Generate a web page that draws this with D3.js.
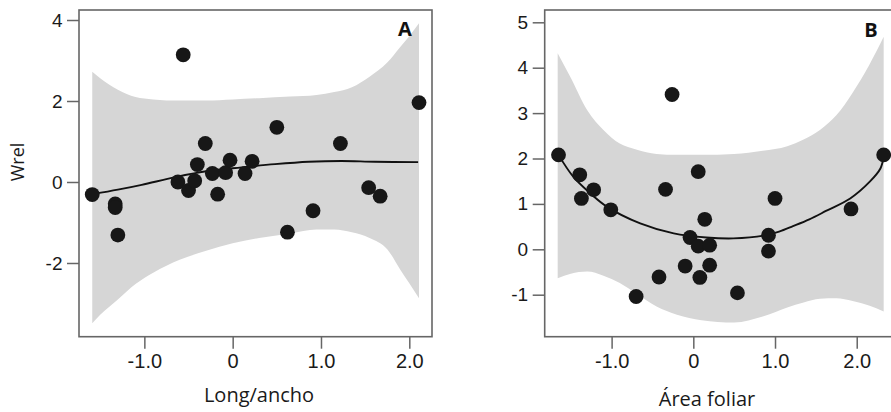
<!DOCTYPE html>
<html>
<head>
<meta charset="utf-8">
<script src="https://cdn.jsdelivr.net/npm/d3@7"></script>
<style>
  html, body { margin: 0; padding: 0; background: #fff; }
  svg { display: block; font-family: "Open Sans", sans-serif; }
</style>
</head>
<body>
<svg id="chart" width="891" height="412"></svg>
<script>
// ---------- Panel A: Long/ancho ----------
const ptsAx = [-1.59, -1.33, -1.33, -1.30, -0.62, -0.56, -0.50, -0.43, -0.40, -0.31, -0.23, -0.17, -0.08, -0.03, 0.14, 0.22, 0.50, 0.62, 0.91, 1.22, 1.54, 1.67, 2.11];
const ptsAy = [-0.31, -0.54, -0.63, -1.31, 0.00, 3.14, -0.21, 0.03, 0.43, 0.95, 0.21, -0.30, 0.23, 0.54, 0.21, 0.51, 1.35, -1.24, -0.71, 0.95, -0.14, -0.35, 1.96];

const fitAx = [-1.58, -1.30, -1.03, -0.65, -0.28, 0.10, 0.48, 0.86, 1.23, 1.61, 2.10];
const fitAy = [-0.30, -0.19, -0.07, 0.12, 0.27, 0.36, 0.44, 0.50, 0.52, 0.50, 0.49];

const bandAx = [-1.59, -1.50, -1.30, -1.10, -0.90, -0.60, -0.30, 0.00, 0.30, 0.65, 0.95, 1.15, 1.35, 1.55, 1.75, 1.90, 2.00, 2.11];
const bandAhi = [2.72, 2.56, 2.28, 2.10, 2.04, 2.01, 2.01, 2.04, 2.07, 2.11, 2.15, 2.22, 2.34, 2.60, 2.95, 3.34, 3.60, 3.92];
const bandAlo = [-3.49, -3.28, -2.90, -2.52, -2.24, -1.92, -1.70, -1.51, -1.38, -1.27, -1.17, -1.17, -1.24, -1.38, -1.66, -2.17, -2.50, -2.87];

const xTicksA = [-1, 0, 1, 2];
const xTickLabelsA = ["-1.0", "0", "1.0", "2.0"];
const yTicksA = [4, 2, 0, -2];
const yTickLabelsA = ["4", "2", "0", "-2"];

// ---------- Panel B: Área foliar ----------
const ptsBx = [-1.65, -1.39, -1.37, -1.22, -1.01, -0.70, -0.42, -0.34, -0.26, -0.10, -0.04, 0.06, 0.06, 0.08, 0.14, 0.20, 0.20, 0.54, 0.92, 0.92, 1.00, 1.93, 2.33];
const ptsBy = [2.08, 1.64, 1.12, 1.31, 0.87, -1.04, -0.61, 1.32, 3.41, -0.37, 0.26, 1.71, 0.07, -0.62, 0.66, 0.09, -0.35, -0.96, 0.31, -0.04, 1.12, 0.89, 2.08];

const fitBx = [-1.65, -1.47, -1.26, -1.06, -0.65, -0.24, 0.16, 0.49, 0.86, 1.05, 1.22, 1.42, 1.63, 1.92, 2.16, 2.29, 2.33];
const fitBy = [2.08, 1.60, 1.23, 0.94, 0.57, 0.35, 0.26, 0.24, 0.30, 0.39, 0.51, 0.66, 0.85, 1.12, 1.49, 1.78, 2.04];

const bandBx = [-1.66, -1.50, -1.30, -1.10, -0.90, -0.70, -0.45, -0.20, 0.10, 0.50, 0.85, 1.15, 1.35, 1.55, 1.75, 1.95, 2.15, 2.33];
const bandBhi = [4.32, 3.78, 3.07, 2.63, 2.33, 2.20, 2.10, 2.08, 2.08, 2.10, 2.17, 2.27, 2.42, 2.63, 2.95, 3.45, 4.05, 4.68];
const bandBlo = [-0.64, -0.54, -0.49, -0.58, -0.74, -0.97, -1.26, -1.44, -1.56, -1.61, -1.48, -1.28, -1.17, -1.09, -1.08, -1.14, -1.24, -1.37];

const xTicksB = [-1, 0, 1, 2];
const xTickLabelsB = ["-1.0", "0", "1.0", "2.0"];
const yTicksB = [5, 4, 3, 2, 1, 0, -1];
const yTickLabelsB = ["5", "4", "3", "2", "1", "0", "-1"];

const svg = d3.select("#chart");
const frameColor = "#666";
const bandColor = "#d6d6d6";
const dotColor = "#171717";

function panel(cfg) {
  const x = d3.scaleLinear().domain(cfg.xDomain).range([cfg.left, cfg.right]);
  const y = d3.scaleLinear().domain(cfg.yDomain).range([cfg.bottom, cfg.top]);
  const g = svg.append("g");

  const band = cfg.bandX.map((v, i) => ({x: v, hi: cfg.bandHi[i], lo: cfg.bandLo[i]}));
  g.append("path")
    .datum(band)
    .attr("fill", bandColor)
    .attr("d", d3.area().curve(d3.curveMonotoneX)
      .x(d => x(d.x)).y0(d => y(d.lo)).y1(d => y(d.hi)));

  const fit = cfg.fitX.map((v, i) => ({x: v, y: cfg.fitY[i]}));
  g.append("path")
    .datum(fit)
    .attr("fill", "none")
    .attr("stroke", "#111")
    .attr("stroke-width", 1.9)
    .attr("d", d3.line().curve(d3.curveCatmullRom.alpha(0.5)).x(d => x(d.x)).y(d => y(d.y)));

  const pts = cfg.ptsX.map((v, i) => ({x: v, y: cfg.ptsY[i]}));
  g.selectAll("circle.pt").data(pts).join("circle")
    .attr("class", "pt")
    .attr("cx", d => x(d.x)).attr("cy", d => y(d.y))
    .attr("r", 7.4).attr("fill", dotColor);

  // frame
  g.append("rect")
    .attr("x", cfg.left).attr("y", cfg.top)
    .attr("width", cfg.frameRight - cfg.left).attr("height", cfg.bottom - cfg.top)
    .attr("fill", "none").attr("stroke", frameColor).attr("stroke-width", 1.6);

  const xAxis = d3.axisBottom(x).tickValues(cfg.xTicks)
    .tickFormat((d, i) => cfg.xTickLabels[i]).tickSize(12).tickPadding(5.5);
  const gx = g.append("g").attr("transform", `translate(0,${cfg.bottom})`).call(xAxis);
  gx.select(".domain").remove();
  gx.selectAll(".tick line").attr("stroke", frameColor).attr("stroke-width", 1.5);
  gx.selectAll(".tick text").attr("fill", "#1a1a1a").style("font-size", "20px");

  const yAxis = d3.axisLeft(y).tickValues(cfg.yTicks)
    .tickFormat((d, i) => cfg.yTickLabels[i]).tickSize(12).tickPadding(4.5);
  const gy = g.append("g").attr("transform", `translate(${cfg.left},0)`).call(yAxis);
  gy.select(".domain").remove();
  gy.selectAll(".tick line").attr("stroke", frameColor).attr("stroke-width", 1.5);
  gy.selectAll(".tick text").attr("fill", "#1a1a1a").style("font-size", "19px");

  g.append("text")
    .attr("x", cfg.xTitlePos[0]).attr("y", cfg.xTitlePos[1])
    .attr("text-anchor", "middle").attr("fill", "#1a1a1a")
    .style("font-size", "20px").text(cfg.xTitle);

  g.append("text")
    .attr("x", cfg.tagPos[0]).attr("y", cfg.tagPos[1])
    .attr("text-anchor", "middle").attr("fill", "#111")
    .style("font-size", "20px").style("font-weight", "bold").text(cfg.tag);
}

panel({
  left: 79, right: 432, frameRight: 432, top: 10, bottom: 336.7,
  xDomain: [-1.74, 2.257], yDomain: [-3.82, 4.247],
  ptsX: ptsAx, ptsY: ptsAy, fitX: fitAx, fitY: fitAy,
  bandX: bandAx, bandHi: bandAhi, bandLo: bandAlo,
  xTicks: xTicksA, xTickLabels: xTickLabelsA, yTicks: yTicksA, yTickLabels: yTickLabelsA,
  xTitle: "Long/ancho", xTitlePos: [259, 401.5],
  tag: "A", tagPos: [405, 36]
});

panel({
  left: 544.7, right: 897, frameRight: 897, top: 10, bottom: 336.7,
  xDomain: [-1.819, 2.493], yDomain: [-1.925, 5.271],
  ptsX: ptsBx, ptsY: ptsBy, fitX: fitBx, fitY: fitBy,
  bandX: bandBx, bandHi: bandBhi, bandLo: bandBlo,
  xTicks: xTicksB, xTickLabels: xTickLabelsB, yTicks: yTicksB, yTickLabels: yTickLabelsB,
  xTitle: "Área foliar", xTitlePos: [707, 406.3],
  tag: "B", tagPos: [871, 37]
});

svg.append("text")
  .attr("transform", "translate(24,162) rotate(-90)")
  .attr("text-anchor", "middle").attr("fill", "#1a1a1a")
  .style("font-size", "18px").text("Wrel");
</script>
</body>
</html>
